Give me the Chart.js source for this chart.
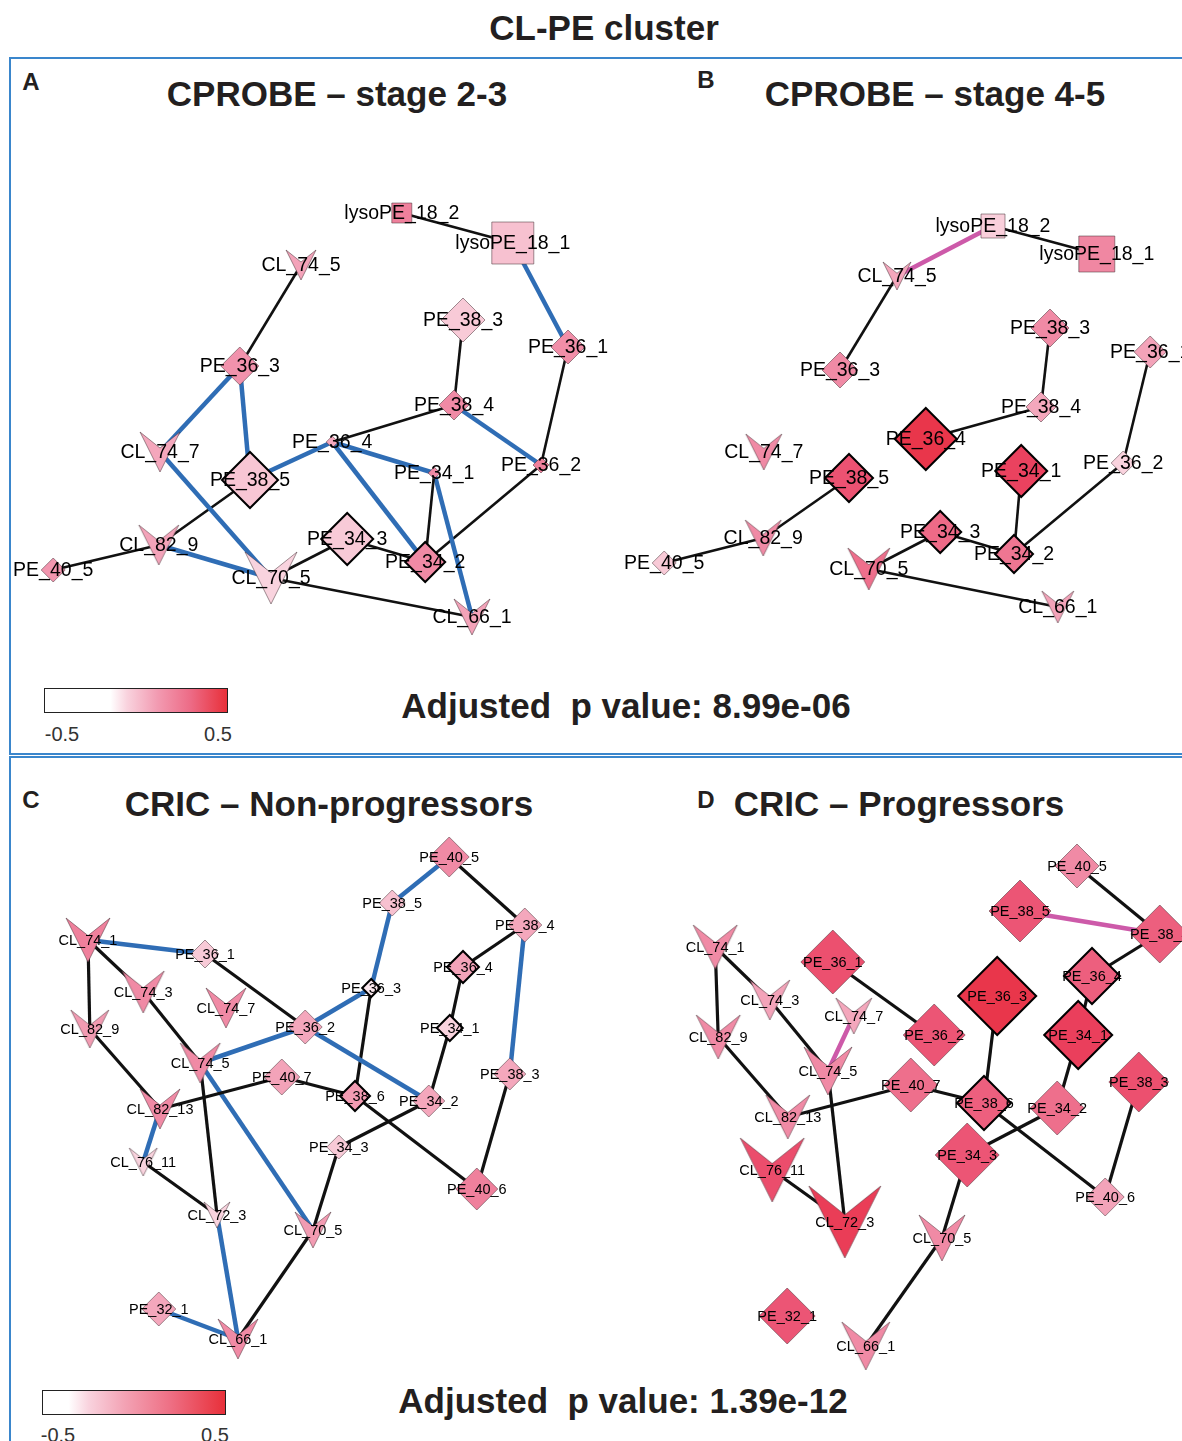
<!DOCTYPE html>
<html>
<head>
<meta charset="utf-8">
<script src="https://cdn.jsdelivr.net/npm/chart.js@4.4.1/dist/chart.umd.min.js"></script>
<style>
html, body { margin: 0; padding: 0; background: #fff; overflow: hidden; }
body { width: 1182px; height: 1441px; position: relative; font-family: "Liberation Sans", Arial, sans-serif; color: #231f20; }
.txt { position: absolute; white-space: pre; line-height: 1; transform: translateX(-50%); }
.b { font-weight: bold; }
.frame { position: absolute; border-left: 2px solid #3a86cc; border-top: 2px solid #3a86cc; }
.bar { position: absolute; width: 182px; height: 23px; border: 1px solid #222; }
canvas { position: absolute; }
</style>
</head>
<body>
<div class="frame" style="left:9px; top:57px; width:1200px; height:694px; border-bottom:2px solid #3a86cc;"></div>
<div class="frame" style="left:9px; top:756px; width:1200px; height:700px;"></div>

<div class="txt b" style="left:604px; top:10px; font-size:35px;">CL-PE cluster</div>
<div class="txt b" style="left:31px; top:70px; font-size:24px;">A</div>
<div class="txt b" style="left:706px; top:68px; font-size:24px;">B</div>
<div class="txt b" style="left:31px; top:788px; font-size:24px;">C</div>
<div class="txt b" style="left:706px; top:788px; font-size:24px;">D</div>
<div class="txt b" style="left:337px; top:76px; font-size:35px;">CPROBE – stage 2-3</div>
<div class="txt b" style="left:935px; top:76px; font-size:35px;">CPROBE – stage 4-5</div>
<div class="txt b" style="left:329px; top:786px; font-size:35px;">CRIC – Non-progressors</div>
<div class="txt b" style="left:899px; top:786px; font-size:35px;">CRIC – Progressors</div>
<div class="txt b" style="left:626px; top:688px; font-size:35px;">Adjusted  p value: 8.99e-06</div>
<div class="txt b" style="left:623px; top:1383px; font-size:35px;">Adjusted  p value: 1.39e-12</div>

<div class="bar" style="left:44px; top:688px; background:linear-gradient(to right,#fff 0%,#fff 36%,#f9d3de 45%,#f29ab1 62%,#ed6b86 80%,#e8303a 100%);"></div>
<div class="txt" style="left:62px; top:724px; font-size:20px; color:#333;">-0.5</div>
<div class="txt" style="left:218px; top:724px; font-size:20px; color:#333;">0.5</div>
<div class="bar" style="left:42px; top:1390px; background:linear-gradient(to right,#fff 0%,#fff 14%,#f9d3de 25%,#f3a2b4 45%,#ee6f84 70%,#e8303a 100%);"></div>
<div class="txt" style="left:58px; top:1425px; font-size:20px; color:#333;">-0.5</div>
<div class="txt" style="left:215px; top:1425px; font-size:20px; color:#333;">0.5</div>

<canvas id="chartA" width="720" height="600" style="left:-50px; top:150px;"></canvas>
<canvas id="chartB" width="720" height="600" style="left:540px; top:150px;"></canvas>
<canvas id="chartC" width="720" height="600" style="left:-50px; top:800px;"></canvas>
<canvas id="chartD" width="720" height="600" style="left:540px; top:800px;"></canvas>

<script>
// ---- CPROBE stage 2-3 ----
const nodesA = ['lysoPE_18_2', 'lysoPE_18_1', 'CL_74_5', 'PE_38_3', 'PE_36_1', 'PE_36_3', 'PE_38_4', 'PE_36_4', 'CL_74_7',
    'PE_34_1', 'PE_36_2', 'PE_38_5', 'CL_82_9', 'PE_34_3', 'PE_40_5', 'CL_70_5', 'PE_34_2', 'CL_66_1'];
const xA = [65.3, 83.8, 48.5, 75.5, 93.0, 38.3, 74.0, 53.7, 25.0, 70.7, 88.5, 40.0, 24.8, 56.2, 7.2, 43.5, 69.2, 77.0];
const yA = [97.4, 91.4, 87.0, 76.0, 70.6, 66.8, 59.0, 51.6, 49.6, 45.4, 47.0, 44.0, 31.0, 32.2, 26.0, 24.4, 27.6, 16.6];
const weightA = [5, 10.5, 7.5, 11, 8.5, 9.5, 7.5, 3, 10, 3, 4, 14, 10, 13, 6, 13, 10, 9];
const corrA = [0.2, 0.04, 0.11, 0.02, 0.16, 0.15, 0.17, 0.1, 0.1, 0.17, 0.2, 0.03, 0.11, 0.02, 0.14, 0.0, 0.17, 0.11];
const hubsA = ['PE_38_5', 'PE_34_3', 'PE_34_2'];
const edgesA = [
    ['lysoPE_18_2', 'lysoPE_18_1', 'k'], ['lysoPE_18_1', 'PE_36_1', 'b'], ['CL_74_5', 'PE_36_3', 'k'],
    ['PE_36_3', 'CL_74_7', 'b'], ['PE_36_3', 'PE_38_5', 'b'], ['PE_38_3', 'PE_38_4', 'k'],
    ['PE_36_1', 'PE_36_2', 'k'], ['PE_38_4', 'PE_36_4', 'k'], ['PE_38_4', 'PE_36_2', 'b'],
    ['PE_36_4', 'PE_38_5', 'b'], ['PE_36_4', 'PE_34_1', 'b'], ['PE_36_4', 'PE_34_2', 'b'],
    ['PE_34_1', 'PE_34_2', 'k'], ['PE_34_1', 'CL_66_1', 'b'], ['PE_36_2', 'PE_34_2', 'k'],
    ['CL_74_7', 'CL_70_5', 'b'], ['PE_38_5', 'CL_82_9', 'k'], ['CL_82_9', 'PE_40_5', 'k'],
    ['CL_82_9', 'CL_70_5', 'b'], ['CL_70_5', 'PE_34_3', 'k'], ['PE_34_3', 'PE_34_2', 'k'],
    ['CL_70_5', 'CL_66_1', 'k']
];

// ---- CPROBE stage 4-5 ----
const nodesB = nodesA;
const xB = [65.5, 82.8, 49.5, 75.0, 91.7, 40.0, 73.5, 54.3, 27.3, 70.2, 87.2, 41.5, 27.2, 56.7, 10.7, 44.8, 69.0, 76.3];
const yB = [94.8, 89.2, 84.8, 74.4, 69.6, 66.0, 58.6, 52.2, 49.6, 45.8, 47.4, 44.4, 32.4, 33.6, 27.4, 26.2, 29.2, 18.6];
const weightB = [6, 9, 7, 9.5, 8, 9, 7.5, 15.5, 9, 13, 6, 12, 9, 10.5, 6, 10.5, 9.5, 8];
const corrB = [0.01, 0.18, 0.1, 0.17, 0.11, 0.17, 0.1, 0.45, 0.17, 0.37, 0.0, 0.31, 0.17, 0.26, 0.02, 0.25, 0.23, 0.11];
const hubsB = ['PE_36_4', 'PE_34_1', 'PE_38_5', 'PE_34_3', 'PE_34_2'];
const edgesB = [
    ['lysoPE_18_2', 'CL_74_5', 'm'], ['lysoPE_18_2', 'lysoPE_18_1', 'k'], ['CL_74_5', 'PE_36_3', 'k'],
    ['PE_38_3', 'PE_38_4', 'k'], ['PE_38_4', 'PE_36_4', 'k'], ['PE_36_1', 'PE_36_2', 'k'],
    ['PE_36_2', 'PE_34_2', 'k'], ['PE_34_1', 'PE_34_2', 'k'], ['PE_34_3', 'PE_34_2', 'k'],
    ['PE_34_3', 'CL_70_5', 'k'], ['CL_70_5', 'CL_66_1', 'k'], ['PE_38_5', 'CL_82_9', 'k'],
    ['CL_82_9', 'PE_40_5', 'k']
];

// ---- CRIC non-progressors ----
const nodesC = ['PE_40_5', 'PE_38_5', 'PE_38_4', 'CL_74_1', 'PE_36_1', 'PE_36_4', 'CL_74_3', 'CL_74_7', 'PE_36_3',
    'CL_82_9', 'PE_36_2', 'PE_34_1', 'CL_74_5', 'PE_40_7', 'PE_38_3', 'PE_38_6', 'PE_34_2', 'CL_82_13',
    'PE_34_3', 'CL_76_11', 'PE_40_6', 'CL_72_3', 'CL_70_5', 'PE_32_1', 'CL_66_1'];
const xC = [73.2, 63.7, 85.8, 13.0, 32.5, 75.5, 22.2, 36.0, 60.2, 13.3, 49.2, 73.3, 31.7, 45.3, 83.3, 57.5, 69.8, 25.0,
    54.8, 22.2, 77.8, 34.5, 50.5, 24.8, 38.0];
const yC = [98.6, 89.4, 85.0, 82.0, 79.2, 76.6, 71.6, 68.4, 72.4, 64.2, 64.6, 64.4, 57.4, 54.6, 55.2, 50.8, 49.8, 48.2,
    40.6, 37.6, 32.2, 27.0, 24.0, 8.2, 2.2];
const weightC = [10, 6.5, 8.5, 11, 7, 8, 10.5, 10, 4.5, 9.5, 8.5, 6.5, 10, 9, 8, 7.5, 8, 10, 6, 7, 10.5, 6.5, 9, 8.5, 10];
const corrC = [0.17, 0.04, 0.1, 0.2, 0.02, 0.11, 0.17, 0.17, -0.02, 0.13, 0.1, 0.0, 0.17, 0.11, 0.1, 0.13, 0.1, 0.17,
    0.02, 0.0, 0.2, 0.0, 0.13, 0.1, 0.17];
const hubsC = ['PE_36_4', 'PE_36_3', 'PE_34_1', 'PE_38_6'];
const edgesC = [
    ['CL_74_1', 'PE_36_1', 'b'], ['CL_74_1', 'CL_82_9', 'k'], ['CL_74_1', 'CL_74_3', 'k'], ['CL_74_3', 'CL_74_5', 'k'],
    ['PE_36_1', 'PE_36_2', 'k'], ['PE_36_2', 'CL_74_5', 'b'], ['PE_36_2', 'PE_36_3', 'b'], ['PE_36_2', 'PE_34_2', 'b'],
    ['PE_36_3', 'PE_38_5', 'b'], ['PE_36_3', 'PE_38_6', 'k'], ['PE_38_5', 'PE_40_5', 'b'], ['PE_40_5', 'PE_38_4', 'k'],
    ['PE_38_4', 'PE_36_4', 'k'], ['PE_38_4', 'PE_38_3', 'b'], ['PE_36_4', 'PE_34_1', 'k'], ['PE_34_1', 'PE_34_2', 'k'],
    ['PE_34_2', 'PE_34_3', 'k'], ['PE_38_3', 'PE_40_6', 'k'], ['PE_38_6', 'PE_40_6', 'k'], ['PE_40_7', 'PE_38_6', 'k'],
    ['PE_40_7', 'CL_82_13', 'k'], ['CL_82_9', 'CL_82_13', 'k'], ['CL_82_13', 'CL_76_11', 'b'], ['CL_76_11', 'CL_72_3', 'k'],
    ['CL_74_5', 'CL_72_3', 'k'], ['CL_74_5', 'CL_70_5', 'b'], ['CL_72_3', 'CL_66_1', 'b'], ['PE_34_3', 'CL_70_5', 'k'],
    ['CL_70_5', 'CL_66_1', 'k'], ['PE_32_1', 'CL_66_1', 'b']
];

// ---- CRIC progressors ----
const nodesD = ['PE_40_5', 'PE_38_5', 'PE_38_4', 'CL_74_1', 'PE_36_1', 'PE_36_4', 'PE_36_3', 'CL_74_3', 'CL_74_7',
    'PE_36_2', 'PE_34_1', 'CL_82_9', 'CL_74_5', 'PE_40_7', 'PE_38_3', 'PE_38_6', 'PE_34_2', 'CL_82_13',
    'PE_34_3', 'CL_76_11', 'PE_40_6', 'CL_72_3', 'CL_70_5', 'PE_32_1', 'CL_66_1'];
const xD = [79.5, 70.0, 93.3, 19.2, 38.8, 82.0, 66.2, 28.3, 42.3, 55.7, 79.7, 19.7, 38.0, 51.8, 89.8, 64.0, 76.2, 31.3,
    61.2, 28.7, 84.2, 40.8, 57.0, 31.2, 44.3];
const yD = [96.8, 87.8, 83.2, 80.6, 77.6, 74.8, 70.8, 70.0, 66.8, 63.0, 63.0, 62.6, 55.8, 53.0, 53.6, 49.4, 48.4, 46.6,
    39.0, 36.0, 30.6, 25.6, 22.4, 6.8, 0.8];
const weightD = [11, 15.5, 14.5, 11, 16, 14, 19.5, 10, 9, 15.5, 17, 11, 12, 13.5, 15, 13.5, 13.5, 11, 16, 16, 9.5, 18,
    11.5, 14, 12];
const corrD = [0.17, 0.3, 0.28, 0.17, 0.32, 0.28, 0.45, 0.11, 0.1, 0.3, 0.38, 0.17, 0.17, 0.25, 0.32, 0.28, 0.25, 0.17,
    0.3, 0.33, 0.11, 0.4, 0.17, 0.3, 0.17];
const hubsD = ['PE_36_3', 'PE_36_4', 'PE_34_1', 'PE_38_6'];
const edgesD = [
    ['PE_40_5', 'PE_38_4', 'k'], ['PE_38_5', 'PE_38_4', 'm'], ['PE_38_4', 'PE_36_4', 'k'], ['PE_36_4', 'PE_34_1', 'k'],
    ['PE_34_1', 'PE_34_2', 'k'], ['CL_74_1', 'CL_82_9', 'k'], ['CL_74_1', 'CL_74_3', 'k'], ['CL_74_3', 'CL_74_5', 'k'],
    ['CL_74_7', 'CL_74_5', 'm'], ['PE_36_1', 'PE_36_2', 'k'], ['PE_36_3', 'PE_38_6', 'k'], ['CL_82_9', 'CL_82_13', 'k'],
    ['CL_82_13', 'PE_40_7', 'k'], ['PE_40_7', 'PE_38_6', 'k'], ['PE_38_6', 'PE_40_6', 'k'], ['PE_38_3', 'PE_40_6', 'k'],
    ['PE_34_2', 'PE_34_3', 'k'], ['PE_34_3', 'CL_70_5', 'k'], ['CL_70_5', 'CL_66_1', 'k'], ['CL_74_5', 'CL_72_3', 'k'],
    ['CL_76_11', 'CL_72_3', 'k']
];

// colour scale of the correlation (-0.5 .. 0.5)
const colorStops = [[-0.5, '#ffffff'], [-0.04, '#ffffff'], [0.0, '#f9d3de'], [0.1, '#f4a7bc'], [0.17, '#f08aa5'],
    [0.25, '#ee6f8c'], [0.3, '#ec5575'], [0.38, '#ea3f5c'], [0.5, '#e8303f']];
const edgeColor = { k: '#111111', b: '#2f6db5', m: '#cd5aa9' };

function hexRgb(h) {
    return [parseInt(h.substr(1, 2), 16), parseInt(h.substr(3, 2), 16), parseInt(h.substr(5, 2), 16)];
}

function corrColor(v) {
    v = Math.max(-0.5, Math.min(0.5, v));
    for (let i = 1; i < colorStops.length; i++) {
        if (v <= colorStops[i][0]) {
            const a = colorStops[i - 1], b = colorStops[i];
            const t = (v - a[0]) / (b[0] - a[0]);
            const ca = hexRgb(a[1]), cb = hexRgb(b[1]);
            const c = ca.map((x, k) => Math.round(x + (cb[k] - x) * t));
            return 'rgb(' + c.join(',') + ')';
        }
    }
    return colorStops[colorStops.length - 1][1];
}

// CL species are drawn as a "V" arrowhead
function vShape(h, fill, stroke, lw) {
    const c = document.createElement('canvas');
    const s = Math.ceil(2 * h + 2 * lw + 2);
    c.width = s;
    c.height = s;
    const g = c.getContext('2d');
    const m = s / 2;
    g.beginPath();
    g.moveTo(m - h, m - h);
    g.lineTo(m, m - h + 0.8 * h);
    g.lineTo(m + h, m - h);
    g.lineTo(m, m + h);
    g.closePath();
    g.fillStyle = fill;
    g.fill();
    g.lineWidth = lw;
    g.strokeStyle = stroke;
    g.stroke();
    return c;
}

const nodeLabels = {
    id: 'nodeLabels',
    afterDatasetsDraw(chart, args, opts) {
        const ctx = chart.ctx;
        const meta = chart.getDatasetMeta(0);
        const names = chart.data.datasets[0].names;
        ctx.save();
        ctx.font = opts.fontSize + 'px "Liberation Sans", Arial, sans-serif';
        ctx.textAlign = 'center';
        ctx.textBaseline = 'middle';
        ctx.fillStyle = '#000';
        meta.data.forEach((pt, i) => ctx.fillText(names[i], pt.x, pt.y + 1));
        ctx.restore();
    }
};

function drawNetwork(id, names, xs, ys, weights, corr, hubs, edges, fontSize, lineW) {
    const px = 2; // pixels per weight unit (half-extent of a node)
    const fills = corr.map(corrColor);
    const isHub = names.map(n => hubs.includes(n));
    const vImgs = names.map((n, i) => n.startsWith('CL') ?
        vShape(weights[i] * px, fills[i], isHub[i] ? '#000' : 'rgba(70,50,55,0.75)', isHub[i] ? 2 : 0.7) : null);
    const radius = c => {
        const i = c.dataIndex, h = weights[i] * px;
        return names[i].startsWith('lyso') ? h / Math.SQRT1_2 : h;
    };

    const nodeSet = {
        names: names,
        data: names.map((n, i) => ({ x: xs[i], y: ys[i] })),
        order: 0,
        clip: false,
        pointStyle: c => vImgs[c.dataIndex] || (names[c.dataIndex].startsWith('lyso') ? 'rect' : 'rectRot'),
        pointRadius: radius,
        pointHoverRadius: radius,
        pointBackgroundColor: fills,
        pointBorderColor: isHub.map(h => h ? '#000' : 'rgba(70,50,55,0.75)'),
        pointBorderWidth: isHub.map(h => h ? 2 : 0.7)
    };

    const edgeSets = edges.map(e => {
        const a = names.indexOf(e[0]), b = names.indexOf(e[1]);
        return {
            data: [{ x: xs[a], y: ys[a] }, { x: xs[b], y: ys[b] }],
            showLine: true,
            order: 1,
            clip: false,
            borderColor: edgeColor[e[2]],
            borderWidth: e[2] === 'k' ? lineW : 4.5,
            pointRadius: 0,
            pointHoverRadius: 0
        };
    });

    return new Chart(document.getElementById(id).getContext('2d'), {
        type: 'scatter',
        data: { datasets: [nodeSet].concat(edgeSets) },
        options: {
            responsive: false,
            animation: false,
            events: [],
            layout: { padding: 0, autoPadding: false },
            scales: {
                x: { type: 'linear', min: -10, max: 110, display: false },
                y: { type: 'linear', min: -10, max: 110, display: false }
            },
            plugins: {
                legend: { display: false },
                tooltip: { enabled: false },
                nodeLabels: { fontSize: fontSize }
            }
        },
        plugins: [nodeLabels]
    });
}

drawNetwork('chartA', nodesA, xA, yA, weightA, corrA, hubsA, edgesA, 19.5, 2.6);
drawNetwork('chartB', nodesB, xB, yB, weightB, corrB, hubsB, edgesB, 19.5, 2.6);
drawNetwork('chartC', nodesC, xC, yC, weightC, corrC, hubsC, edgesC, 14.5, 3.2);
drawNetwork('chartD', nodesD, xD, yD, weightD, corrD, hubsD, edgesD, 14.5, 3.2);
</script>
</body>
</html>
